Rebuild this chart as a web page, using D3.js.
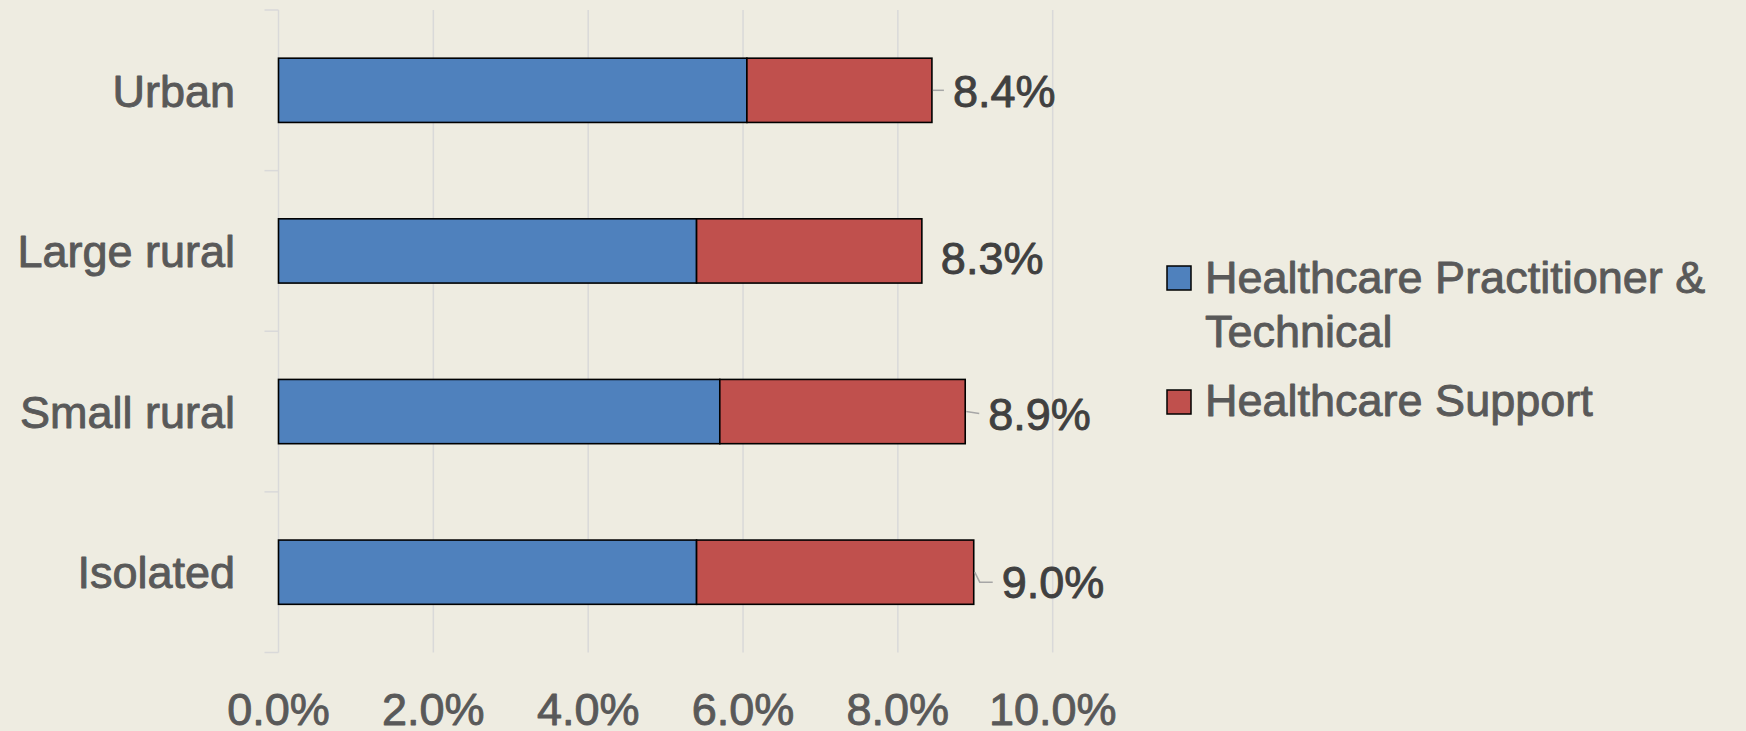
<!DOCTYPE html>
<html>
<head>
<meta charset="utf-8">
<script src="https://cdn.jsdelivr.net/npm/d3@7/dist/d3.min.js"></script>
<style>
  html, body { margin: 0; padding: 0; background: #EEECE1; }
  svg { display: block; }
  text { font-family: "Liberation Sans", Arial, sans-serif; }
</style>
</head>
<body>
<svg id="chart" width="1746" height="731"></svg>
<script>
// ---- data ----
const categories = ["Urban", "Large rural", "Small rural", "Isolated"];
const practitioner = [6.05, 5.40, 5.70, 5.40];   // Healthcare Practitioner & Technical (%)
const support      = [2.39, 2.91, 3.17, 3.58];   // Healthcare Support (%)
const seriesNames  = ["Healthcare Practitioner & Technical", "Healthcare Support"];
const xTicks       = [0, 2, 4, 6, 8, 10];

// ---- layout / style ----
const W = 1746, H = 731;
const plot = { left: 278.5, right: 1052.7, top: 10, bottom: 652.5 };
const colors = ["#4F81BD", "#C0504D"];
const labelNudge = [ {dx: 21, dy: 0}, {dx: 19, dy: 7}, {dx: 23, dy: 2}, {dx: 28, dy: 10} ];
const FS = 45;
const TEXT_STROKE = 0.9;

const svg = d3.select("#chart");
svg.append("rect").attr("width", W).attr("height", H).attr("fill", "#EEECE1");

const x = d3.scaleLinear().domain([0, 10]).range([plot.left, plot.right]);
const y = d3.scaleBand().domain(categories).range([plot.top, plot.bottom])
  .paddingInner(0.6).paddingOuter(0.3);

function styleText(sel, color) {
  return sel.attr("font-size", FS).attr("fill", color)
    .attr("stroke", color).attr("stroke-width", TEXT_STROKE)
    .attr("stroke-linejoin", "round");
}

// gridlines
svg.append("g").selectAll("line").data(xTicks.filter(t => t > 0)).join("line")
  .attr("x1", d => x(d)).attr("x2", d => x(d))
  .attr("y1", plot.top).attr("y2", plot.bottom)
  .attr("stroke", "#D9D9D9").attr("stroke-width", 1.5);

// category axis line and ticks
const step = y.step();
svg.append("line").attr("x1", x(0)).attr("x2", x(0))
  .attr("y1", plot.top).attr("y2", plot.bottom)
  .attr("stroke", "#D9D9D9").attr("stroke-width", 1.5);
svg.append("g").selectAll("line").data(d3.range(categories.length + 1)).join("line")
  .attr("x1", x(0) - 14).attr("x2", x(0))
  .attr("y1", i => plot.top + i * step).attr("y2", i => plot.top + i * step)
  .attr("stroke", "#D9D9D9").attr("stroke-width", 1.5);

// category labels
styleText(svg.append("g").selectAll("text").data(categories).join("text")
  .attr("x", 235).attr("y", d => y(d) + y.bandwidth() / 2)
  .attr("dy", "0.36em")
  .attr("text-anchor", "end"), "#595959")
  .text(d => d);

// x tick labels
const fmt = d3.format(".1f");
styleText(svg.append("g").selectAll("text").data(xTicks).join("text")
  .attr("x", d => x(d)).attr("y", 725)
  .attr("text-anchor", "middle"), "#595959")
  .text(d => fmt(d) + "%");

// stacked bars
const rows = categories.map((c, i) => ({ c, i, a: practitioner[i], b: support[i] }));
const barG = svg.append("g");
barG.selectAll("rect.a").data(rows).join("rect").attr("class", "a")
  .attr("x", d => x(0)).attr("y", d => y(d.c))
  .attr("width", d => x(d.a) - x(0)).attr("height", y.bandwidth())
  .attr("fill", colors[0]).attr("stroke", "#000").attr("stroke-width", 1.6);
barG.selectAll("rect.b").data(rows).join("rect").attr("class", "b")
  .attr("x", d => x(d.a)).attr("y", d => y(d.c))
  .attr("width", d => x(d.a + d.b) - x(d.a)).attr("height", y.bandwidth())
  .attr("fill", colors[1]).attr("stroke", "#000").attr("stroke-width", 1.6);

// total labels with leader lines
rows.forEach(d => {
  const n = labelNudge[d.i];
  const ex = x(d.a + d.b), cy = y(d.c) + y.bandwidth() / 2;
  const lx = ex + n.dx, ly = cy + n.dy;
  if (n.dx > 20) {
    const pts = [[ex + 1, cy]];
    if (n.dy > 5) pts.push([ex + 6, ly]);
    pts.push([lx - 9, ly]);
    svg.append("path").attr("d", d3.line()(pts))
      .attr("fill", "none").attr("stroke", "#A6A6A6").attr("stroke-width", 1.5);
  }
  styleText(svg.append("text").attr("x", lx).attr("y", ly).attr("dy", "0.36em"), "#404040")
    .text(fmt(d.a + d.b) + "%");
});

// legend
const lg = svg.append("g");
const legendItems = [
  { lines: ["Healthcare Practitioner &", "Technical"], sq: 266, base: 293 },
  { lines: ["Healthcare Support"], sq: 390, base: 416 }
];
legendItems.forEach((it, k) => {
  lg.append("rect").attr("x", 1167).attr("y", it.sq).attr("width", 24).attr("height", 24)
    .attr("fill", colors[k]).attr("stroke", "#000").attr("stroke-width", 1.5);
  it.lines.forEach((t, j) => {
    styleText(lg.append("text").attr("x", 1205).attr("y", it.base + j * 54), "#595959").text(t);
  });
});
</script>
</body>
</html>
